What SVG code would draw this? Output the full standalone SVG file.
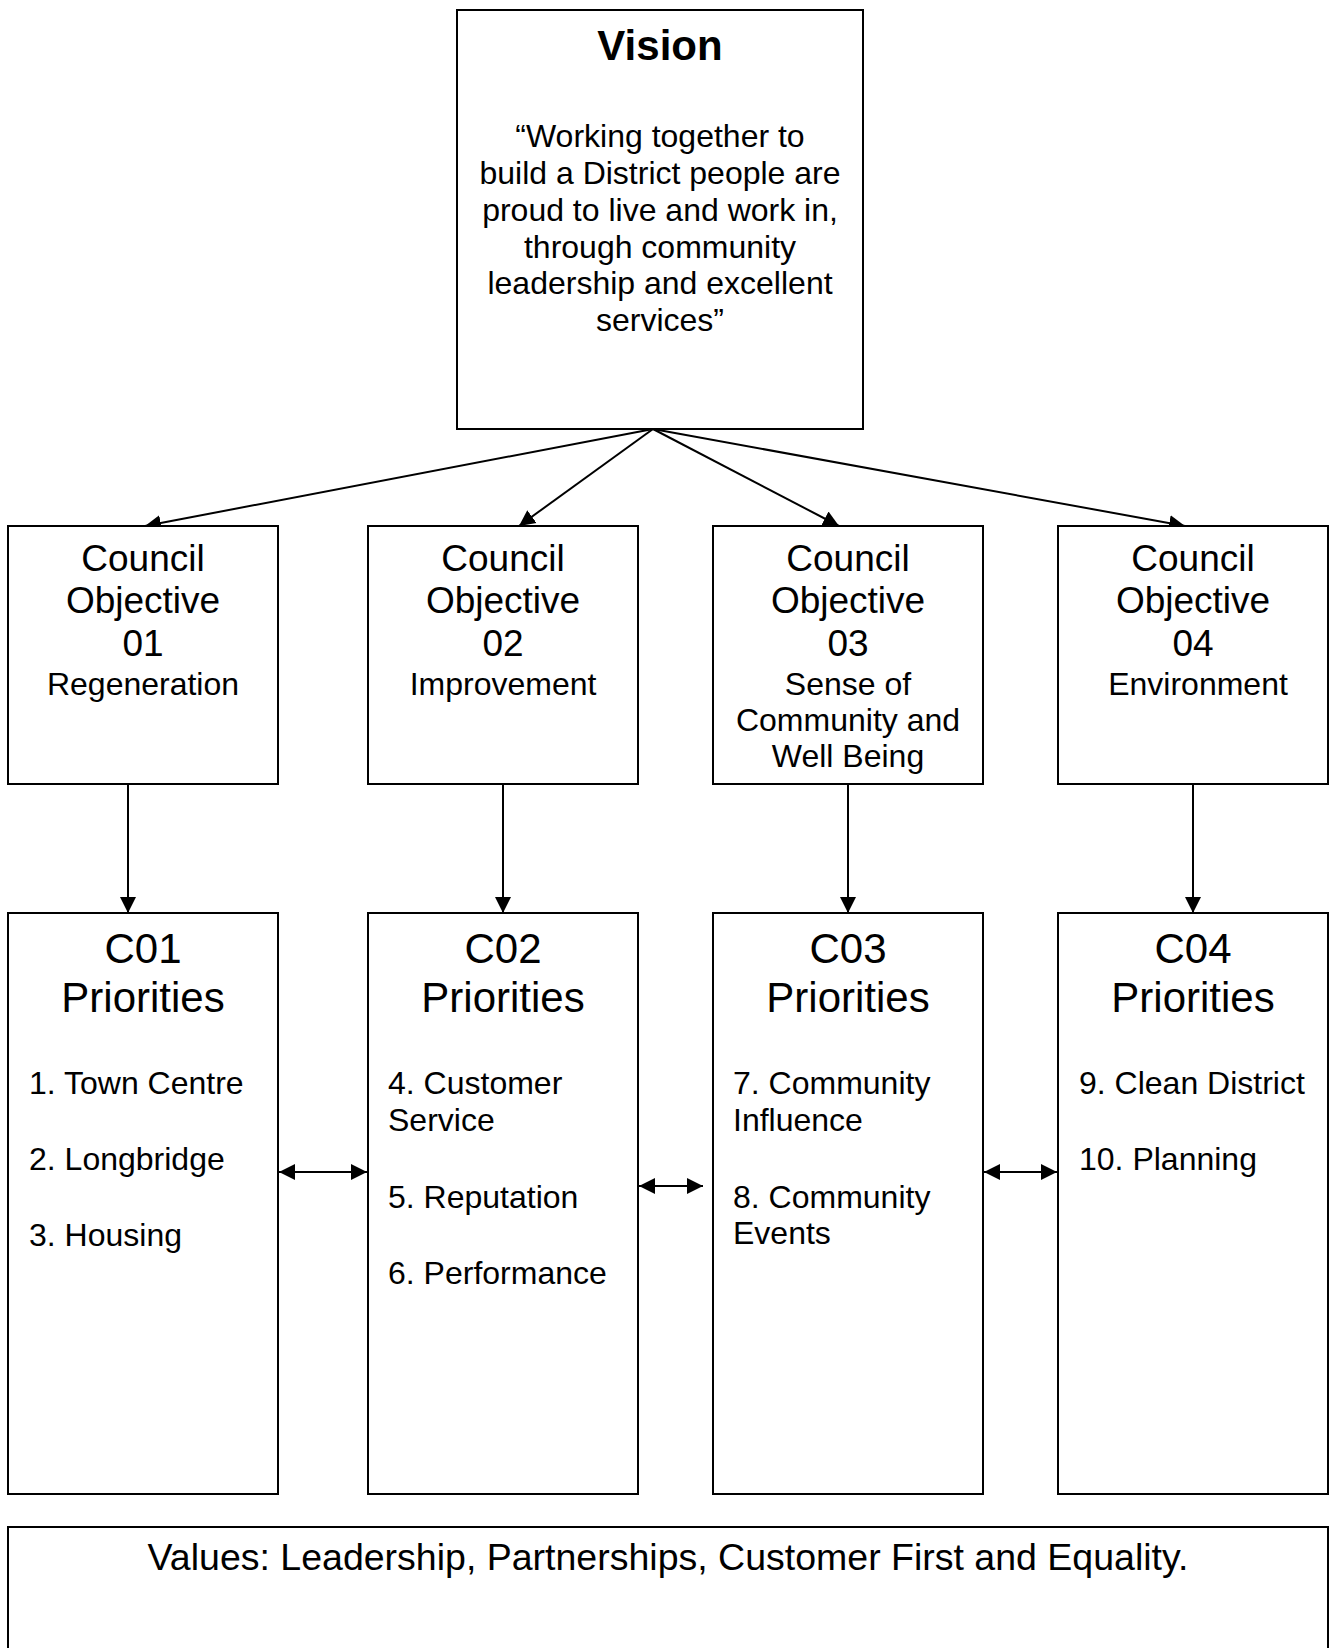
<svg xmlns="http://www.w3.org/2000/svg" width="1332" height="1648" viewBox="0 0 1332 1648">
<style>
  .box { fill: #ffffff; stroke: #000000; stroke-width: 2; }
  .t { font-family: "Liberation Sans", Arial, sans-serif; fill: #000000; }
  .c { text-anchor: middle; }
  .conn { stroke: #000000; stroke-width: 2; fill: none; }
  .f32 { font-size: 32px; }
  .f37 { font-size: 37px; }
  .f42 { font-size: 42px; }
</style>
<defs>
  <marker id="arr" markerUnits="userSpaceOnUse" markerWidth="17" markerHeight="17" viewBox="0 0 17 17" refX="16" refY="8.5" orient="auto-start-reverse">
    <path d="M0,0.5 L16,8.5 L0,16.5 z" fill="#000000"/>
  </marker>
</defs>
<rect width="1332" height="1648" fill="#ffffff"/>

<g id="connectors">
  <line class="conn" x1="653" y1="429" x2="145" y2="526" marker-end="url(#arr)"/>
  <line class="conn" x1="653" y1="429" x2="519" y2="526" marker-end="url(#arr)"/>
  <line class="conn" x1="653" y1="429" x2="839" y2="526" marker-end="url(#arr)"/>
  <line class="conn" x1="653" y1="429" x2="1185" y2="526" marker-end="url(#arr)"/>
  <line class="conn" x1="128" y1="784" x2="128" y2="913" marker-end="url(#arr)"/>
  <line class="conn" x1="503" y1="784" x2="503" y2="913" marker-end="url(#arr)"/>
  <line class="conn" x1="848" y1="784" x2="848" y2="913" marker-end="url(#arr)"/>
  <line class="conn" x1="1193" y1="784" x2="1193" y2="913" marker-end="url(#arr)"/>
  <line class="conn" x1="279" y1="1172" x2="367" y2="1172" marker-start="url(#arr)" marker-end="url(#arr)"/>
  <line class="conn" x1="639" y1="1186" x2="703" y2="1186" marker-start="url(#arr)" marker-end="url(#arr)"/>
  <line class="conn" x1="984" y1="1172" x2="1057" y2="1172" marker-start="url(#arr)" marker-end="url(#arr)"/>
</g>

<g id="vision">
  <rect class="box" x="457" y="10" width="406" height="419"/>
  <text class="t c" x="660" y="60" font-size="42" font-weight="bold">Vision</text>
  <text class="t c f32" x="660" y="147">“Working together to</text>
  <text class="t c f32" x="660" y="184">build a District people are</text>
  <text class="t c f32" x="660" y="221">proud to live and work in,</text>
  <text class="t c f32" x="660" y="258">through community</text>
  <text class="t c f32" x="660" y="294">leadership and excellent</text>
  <text class="t c f32" x="660" y="331">services”</text>
</g>

<g id="objective1">
  <rect class="box" x="8" y="526" width="270" height="258"/>
  <text class="t c f37" x="143" y="571">Council</text>
  <text class="t c f37" x="143" y="613">Objective</text>
  <text class="t c f37" x="143" y="656">01</text>
  <text class="t c f32" x="143" y="695">Regeneration</text>
</g>
<g id="objective2">
  <rect class="box" x="368" y="526" width="270" height="258"/>
  <text class="t c f37" x="503" y="571">Council</text>
  <text class="t c f37" x="503" y="613">Objective</text>
  <text class="t c f37" x="503" y="656">02</text>
  <text class="t c f32" x="503" y="695">Improvement</text>
</g>
<g id="objective3">
  <rect class="box" x="713" y="526" width="270" height="258"/>
  <text class="t c f37" x="848" y="571">Council</text>
  <text class="t c f37" x="848" y="613">Objective</text>
  <text class="t c f37" x="848" y="656">03</text>
  <text class="t c f32" x="848" y="695">Sense of</text>
  <text class="t c f32" x="848" y="731">Community and</text>
  <text class="t c f32" x="848" y="767">Well Being</text>
</g>
<g id="objective4">
  <rect class="box" x="1058" y="526" width="270" height="258"/>
  <text class="t c f37" x="1193" y="571">Council</text>
  <text class="t c f37" x="1193" y="613">Objective</text>
  <text class="t c f37" x="1193" y="656">04</text>
  <text class="t c f32" x="1198" y="695">Environment</text>
</g>

<g id="priorities1">
  <rect class="box" x="8" y="913" width="270" height="581"/>
  <text class="t c f42" x="143" y="963">C01</text>
  <text class="t c f42" x="143" y="1012">Priorities</text>
  <text class="t f32" x="29" y="1094">1. Town Centre</text>
  <text class="t f32" x="29" y="1170">2. Longbridge</text>
  <text class="t f32" x="29" y="1246">3. Housing</text>
</g>
<g id="priorities2">
  <rect class="box" x="368" y="913" width="270" height="581"/>
  <text class="t c f42" x="503" y="963">C02</text>
  <text class="t c f42" x="503" y="1012">Priorities</text>
  <text class="t f32" x="388" y="1094">4. Customer</text>
  <text class="t f32" x="388" y="1131">Service</text>
  <text class="t f32" x="388" y="1208">5. Reputation</text>
  <text class="t f32" x="388" y="1284">6. Performance</text>
</g>
<g id="priorities3">
  <rect class="box" x="713" y="913" width="270" height="581"/>
  <text class="t c f42" x="848" y="963">C03</text>
  <text class="t c f42" x="848" y="1012">Priorities</text>
  <text class="t f32" x="733" y="1094">7. Community</text>
  <text class="t f32" x="733" y="1131">Influence</text>
  <text class="t f32" x="733" y="1208">8. Community</text>
  <text class="t f32" x="733" y="1244">Events</text>
</g>
<g id="priorities4">
  <rect class="box" x="1058" y="913" width="270" height="581"/>
  <text class="t c f42" x="1193" y="963">C04</text>
  <text class="t c f42" x="1193" y="1012">Priorities</text>
  <text class="t f32" x="1079" y="1094">9. Clean District</text>
  <text class="t f32" x="1079" y="1170">10. Planning</text>
</g>

<g id="values">
  <rect class="box" x="8" y="1527" width="1320" height="140"/>
  <text class="t c" x="668" y="1570" font-size="37.5">Values: Leadership, Partnerships, Customer First and Equality.</text>
</g>
</svg>
